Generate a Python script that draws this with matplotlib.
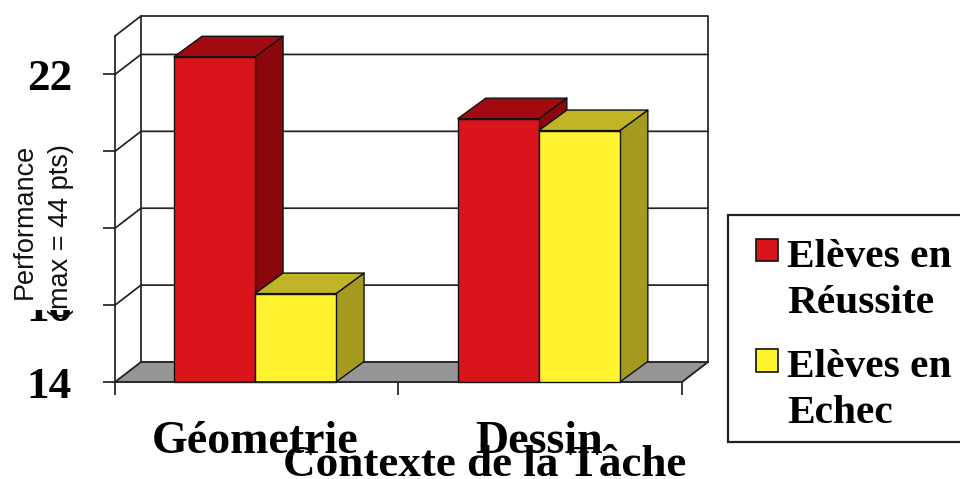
import matplotlib
matplotlib.use("Agg")
import matplotlib.pyplot as plt
from matplotlib.patches import Polygon, Patch, Rectangle

categories = ["Géometrie", "Dessin"]
series_names = ["Elèves en\nRéussite", "Elèves en\nEchec"]
reussite = [22.46, 20.85]
echec = [16.3, 20.54]
y_ticks = [14, 16, 18, 20, 22]
y_labels = ["14", "16", "", "", "22"]

W, H = 960, 479
SERIF = "Liberation Serif"
SANS = "Liberation Sans"
fig = plt.figure(figsize=(W / 100, H / 100), dpi=100)
L, R, B, T = 115, 682, 382, 36
ax = fig.add_axes([L / W, (H - B) / H, (R - L) / W, (B - T) / H])
ax.set_xlim(0, 2)
ax.set_ylim(14, 23)
ax.patch.set_visible(False)
ux = (R - L) / 2      # px per x unit
uy = (B - T) / 9      # px per y unit

def px(x, y):
    return x / W, 1 - y / H

def depth(dx_px, dy_px):
    return dx_px / ux, dy_px / uy

# ---- walls and floor
wx, wy = depth(26, 20)
line = dict(color="#222222", lw=1.25, clip_on=False)
ax.add_patch(Polygon([(0, 14), (wx, 14 + wy), (2 + wx, 14 + wy), (2, 14)],
                     closed=True, fc="#969696", ec="#333333", lw=0.8, clip_on=False, zorder=1))
for v in y_ticks:
    ax.plot([0, wx, 2 + wx], [v, v + wy, v + wy], zorder=1.2, **line)
ax.plot([0, wx, 2 + wx, 2 + wx], [23, 23 + wy, 23 + wy, 14 + wy], zorder=1.2, **line)
ax.plot([wx, wx], [14 + wy, 23 + wy], zorder=1.2, **line)
ax.plot([2, 2 + wx], [14, 14 + wy], zorder=1.2, **line)

# ---- 3D bars
bw = 81 / ux
bx, by = depth(28, 20.5)
centres = [0.494, 1.495]
styles = [("#DA141B", "#A10A10", "#8A070C"), ("#FFF22E", "#BFB526", "#A39A1F")]

def bar3d(x0, v, cols, z):
    front, top, side = cols
    x1 = x0 + bw
    kw = dict(closed=True, ec="#111111", lw=1.0, clip_on=False, zorder=z, joinstyle="round")
    ax.add_patch(Polygon([(x1, 14), (x1 + bx, 14 + by), (x1 + bx, v + by), (x1, v)], fc=side, **kw))
    ax.add_patch(Polygon([(x0, v), (x0 + bx, v + by), (x1 + bx, v + by), (x1, v)], fc=top, **kw))
    ax.add_patch(Polygon([(x0, 14), (x0, v), (x1, v), (x1, 14)], fc=front, **kw))

for i, c in enumerate(centres):
    bar3d(c - bw, reussite[i], styles[0], 2 + i)
    bar3d(c, echec[i], styles[1], 2.5 + i)

# ---- axes
for s in ("top", "right"):
    ax.spines[s].set_visible(False)
for s in ("left", "bottom"):
    ax.spines[s].set_color("#222222")
    ax.spines[s].set_linewidth(1.25)
ax.set_yticks(y_ticks, y_labels, fontfamily=SERIF, fontweight="bold", fontsize=32.5)
ax.tick_params(axis="y", length=9, width=1.25, color="#222222", pad=22)
ax.set_xticks(centres, categories, fontfamily=SERIF, fontweight="bold", fontsize=33)
ax.set_xticks([0, 1, 2], minor=True)
ax.tick_params(axis="x", which="major", length=0, pad=28)
ax.tick_params(axis="x", which="minor", length=9, width=1.25, color="#222222")

# white box of the original that hides most of the "16" label
ax.add_patch(Rectangle(px(8, 310), 90 / W, 80 / H, transform=fig.transFigure, fc="white",
                       ec="none", zorder=6, clip_on=False))

# ---- labels
x, y = px(25, 221)
fig.text(x, y, "Performance", rotation=90, ha="center", va="center", fontfamily=SANS, fontsize=19.5, color="#111111")
x, y = px(61, 231)
fig.text(x, y, "(max = 44 pts)", rotation=90, ha="center", va="center", fontfamily=SANS, fontsize=19.5, color="#111111")
x, y = px(485, 465)
fig.text(x, y, "Contexte de la Tâche", ha="center", va="center", fontfamily=SERIF, fontweight="bold", fontsize=32.5)

# ---- legend frame, then the legend itself
x, y = px(728, 442)
fig.patches.append(Rectangle((x, y), 300 / W, 227 / H, transform=fig.transFigure, fc="white",
                             ec="#222222", lw=1.6, figure=fig))
handles = [Patch(fc=styles[0][0], ec="#111111", lw=1.2), Patch(fc=styles[1][0], ec="#111111", lw=1.2)]
x, y = px(730, 213)
leg = fig.legend(handles, series_names, loc="upper left", bbox_to_anchor=(x, y), borderaxespad=0,
                 prop=dict(family=SERIF, weight="bold", size=29.8), frameon=False,
                 handlelength=0.54, handleheight=0.45,
                 handletextpad=0.22, labelspacing=0.67, borderpad=0.62)
for t in leg.get_texts():
    t.set_linespacing(1.32)
for row in leg._legend_handle_box.get_children()[0].get_children():
    row.align = "top"

fig.savefig("out.png", dpi=100)
